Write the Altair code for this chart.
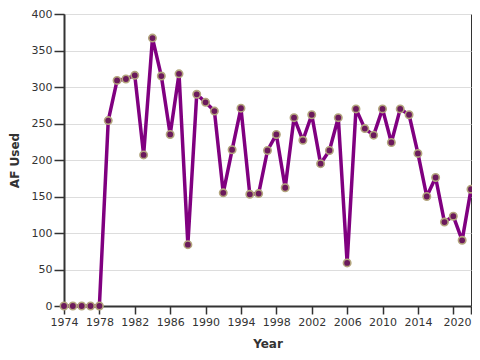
import altair as alt
import pandas as pd

years = list(range(1974, 2021))
af_used = [0, 0, 0, 0, 0, 254, 309, 311, 316, 207, 367, 315, 235, 318, 84,
           290, 279, 267, 155, 214, 271, 153, 154, 213, 235, 162, 258, 227,
           262, 195, 213, 258, 59, 270, 243, 234, 270, 224, 270, 262, 209,
           150, 176, 115, 123, 90, 160]
x_ticks = [1974, 1978, 1982, 1986, 1990, 1994, 1998, 2002, 2006, 2010, 2014, 2018, 2020]

df = pd.DataFrame({"Year": years, "AF": af_used})

x = alt.X("Year:Q", scale=alt.Scale(domain=[1974, 2020], nice=False, zero=False),
          axis=alt.Axis(title="Year", values=x_ticks, format="d", grid=False,
                        labelOverlap=False, labelBound=False, labelFlush=False,
                        labelExpr="datum.value == 2018 ? '' : datum.label",
                        labelAlign=alt.condition("datum.value == 2020",
                                                 alt.value("right"), alt.value("center")),
                        tickSize=8, labelPadding=2, titlePadding=11))
y = alt.Y("AF:Q", scale=alt.Scale(domain=[0, 400], nice=False),
          axis=alt.Axis(title="AF Used", values=list(range(0, 401, 50)),
                        labelOverlap=False, labelFlush=False,
                        tickSize=10, labelPadding=2, titlePadding=10, grid=True))

line = alt.Chart(df).mark_line(color="#800080", strokeWidth=3.5,
                               strokeJoin="round").encode(x=x, y=y)
pts = alt.Chart(df).mark_point(filled=True, fill="#6b1a5c", stroke="#b3a57d",
                               strokeWidth=1.6, size=55, opacity=1).encode(x=x, y=y)

chart = (line + pts).properties(
    width=407, height=292,
    autosize=alt.AutoSizeParams(type="none"),
    padding={"left": 56, "top": 6, "right": 1, "bottom": 44},
).configure_view(stroke="#333", strokeWidth=1).configure_axis(
    labelFont="DejaVu Sans", titleFont="DejaVu Sans", labelFontSize=11,
    titleFontSize=12, labelColor="#333", titleColor="#333", titleFontWeight="bold",
    domainColor="#333", domainWidth=2, tickColor="#333", tickWidth=1.5,
    gridColor="#dddddd", gridWidth=1
)

chart.save("out.html", embed_options={"renderer": "svg", "actions": False})
